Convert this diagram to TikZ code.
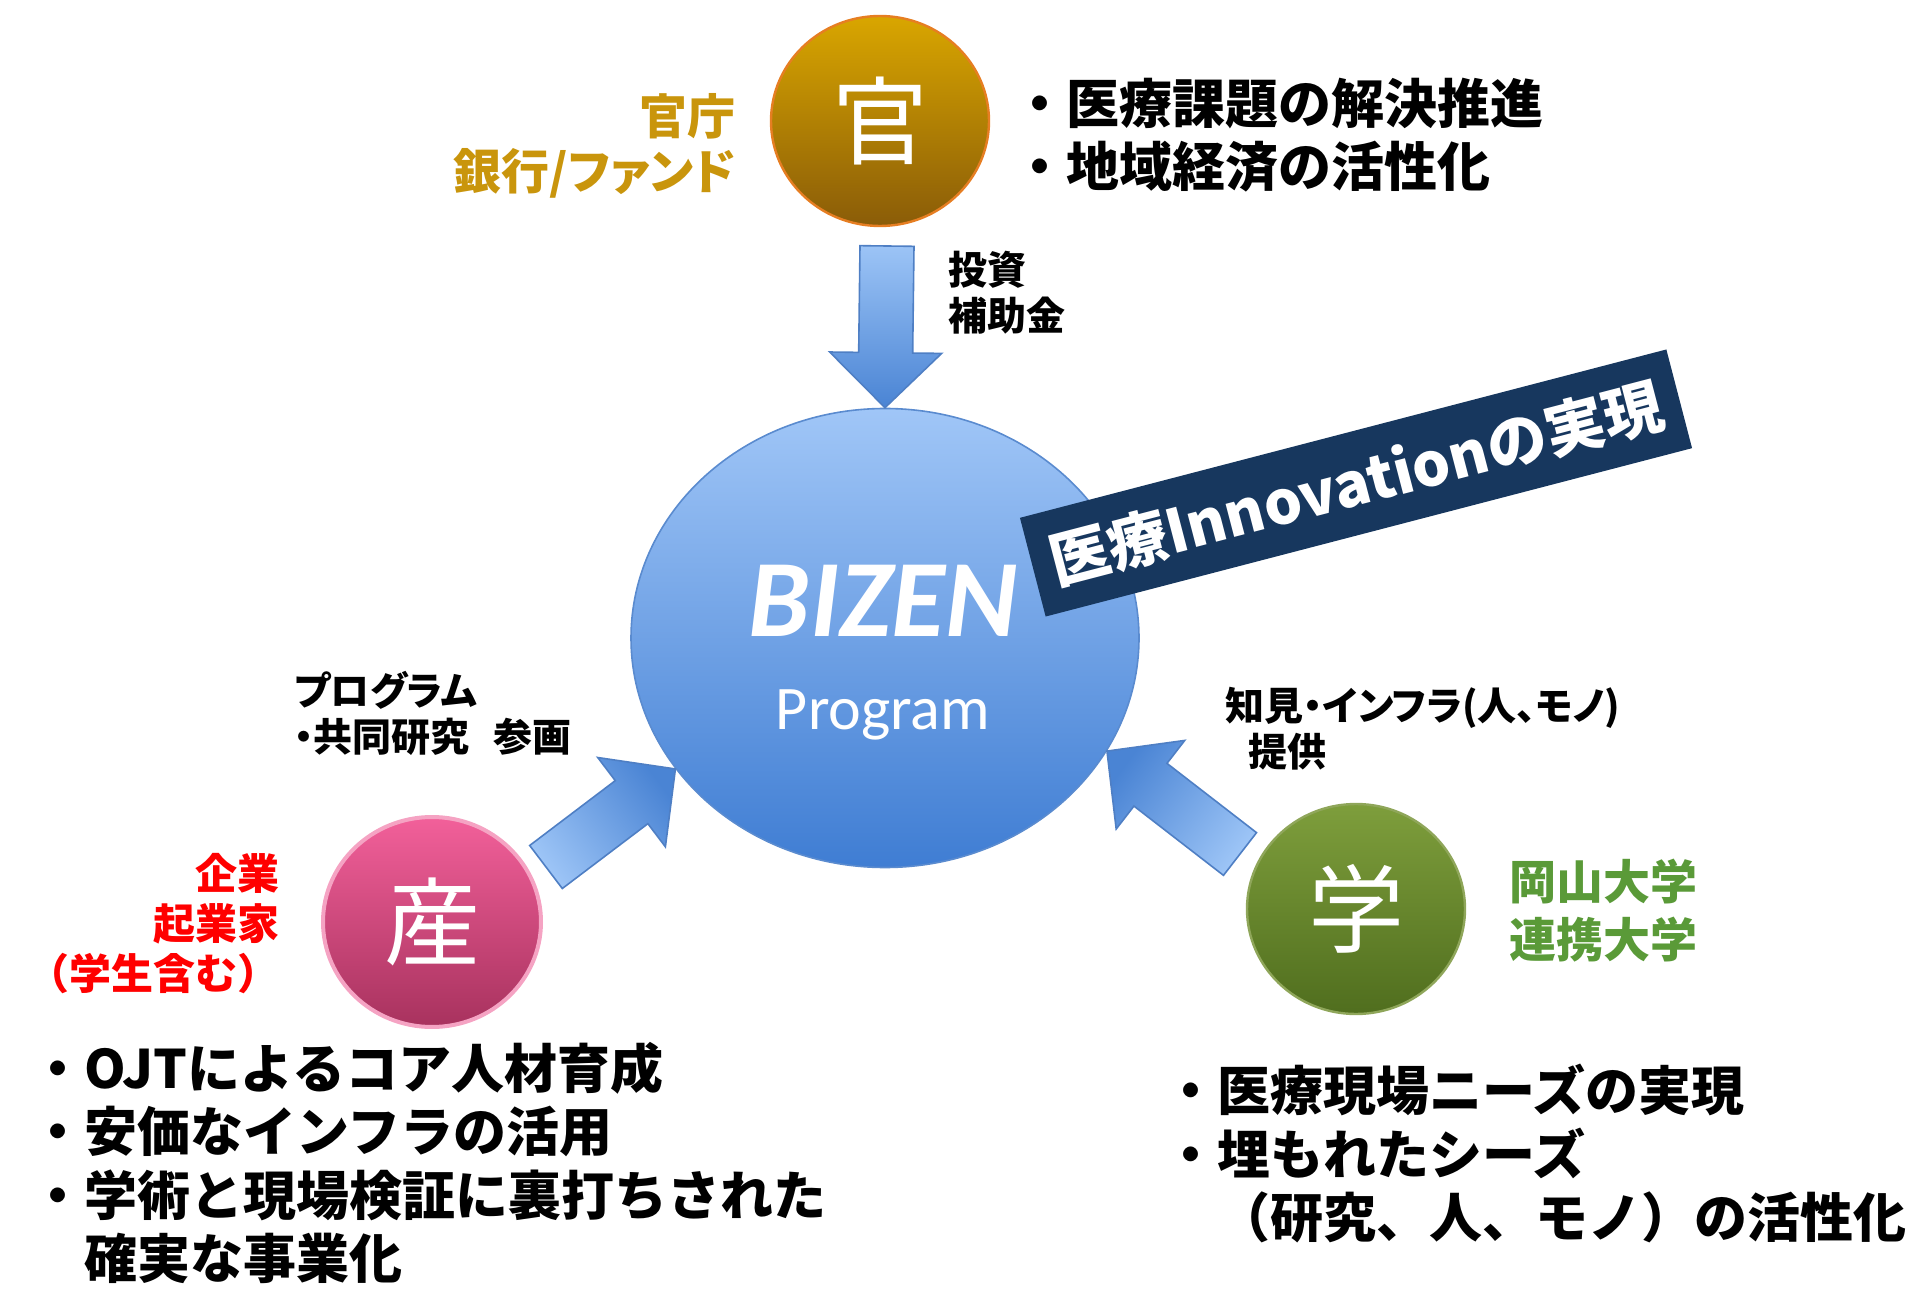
\documentclass[tikz,border=0pt]{standalone}
\usepackage{fontspec}
\setmainfont{Noto Sans CJK JP}
\newfontfamily\labelfont{Noto Sans CJK JP}[RawFeature=+palt]
\newfontfamily\latinfont{Carlito}
\usetikzlibrary{shapes.geometric,calc,positioning}

\definecolor{govtop}{HTML}{D9A600}
\definecolor{govbot}{HTML}{8A5C08}
\definecolor{govline}{HTML}{E67E22}
\definecolor{govtext}{HTML}{C9950C}
\definecolor{biztop}{HTML}{A0C6F7}
\definecolor{bizbot}{HTML}{3F7DD3}
\definecolor{bizline}{HTML}{5A8BCF}
\definecolor{indtop}{HTML}{F2609A}
\definecolor{indbot}{HTML}{A8325E}
\definecolor{indline}{HTML}{F5A3C3}
\definecolor{acatop}{HTML}{7E9E3C}
\definecolor{acabot}{HTML}{506E1E}
\definecolor{acaline}{HTML}{8FA65A}
\definecolor{acatext}{HTML}{5A9A38}
\definecolor{arrowlight}{HTML}{9CC4F6}
\definecolor{arrowdark}{HTML}{4A84D4}
\definecolor{arrowline}{HTML}{4F7FC4}
\definecolor{bannerblue}{HTML}{17375E}

% block arrow from #2 to #3
\newcommand\blockarrow[3][]{%
  \coordinate (hb) at ($(#3)!27.5pt!(#2)$);
  \shade[arrowshade,#1] ($(#2)!13.5pt!90:(#3)$) -- ($(hb)!13.5pt!90:(#3)$)
    -- ($(hb)!28pt!90:(#3)$) -- (#3) -- ($(hb)!28pt!-90:(#3)$)
    -- ($(hb)!13.5pt!-90:(#3)$) -- ($(#2)!13.5pt!-90:(#3)$) -- cycle;}

\begin{document}
\begin{tikzpicture}[x=0.5pt,y=-0.5pt,
  circ/.style={ellipse,inner sep=0pt,minimum width=109pt,minimum height=105pt,
    line width=1.2pt,text=white,font=\fontsize{48}{48}\selectfont},
  arrowshade/.style={top color=arrowdark,bottom color=arrowlight,draw=arrowline,line width=0.8pt},
  bullets/.style={anchor=west,align=left,inner sep=0pt,font=\bfseries\fontsize{26.5}{31.75}\selectfont},
  smalllabel/.style={anchor=west,align=left,inner sep=0pt,font=\labelfont\bfseries\fontsize{19.5}{23}\selectfont},
  slogan/.style={fill=bannerblue,text=white,inner sep=0pt,minimum width=334pt,minimum height=51pt,
    font=\bfseries\fontsize{30}{30}\selectfont}]
\useasboundingbox (0,0) rectangle (1924,1294);

\node[ellipse,inner sep=0pt,minimum width=254pt,minimum height=229.5pt,
  top color=biztop,bottom color=bizbot,draw=bizline,line width=0.8pt] (bizen) at (885,638) {};
\node[text=white,font=\latinfont\bfseries\itshape\fontsize{55}{55}\selectfont] (bizname) at (883,601) {BIZEN};
\node[text=white,font=\latinfont\fontsize{31}{31}\selectfont] (program) at (883,715) {Program};

\node[circ,top color=govtop,bottom color=govbot,draw=govline] (gov) at (880,121) {官};
\node[circ,top color=indtop,bottom color=indbot,draw=indline,line width=2pt] (ind) at (432,922) {産};
\node[circ,top color=acatop,bottom color=acabot,draw=acaline] (aca) at (1356,909) {学};

\coordinate (gov-out) at (887,246);
\coordinate (ind-out) at (546,867);
\coordinate (aca-out) at (1240,854);
\blockarrow[shading angle=180]{gov-out}{bizen.north}
\blockarrow[shading angle=-53]{ind-out}{bizen.212}
\blockarrow[shading angle=53]{aca-out}{bizen.-27}

\node[slogan,rotate=14.6] (slogan) at (1356,483) {医療Innovationの実現};

\node[anchor=east,align=right,inner sep=0pt,text=govtext,
  font=\labelfont\bfseries\fontsize{24}{27.5}\selectfont] (govname) at (736,146) {官庁\\銀行/ファンド};
\node[bullets] (govgoal) at (1013,135) {・医療課題の解決推進\\・地域経済の活性化};
\node[smalllabel] (fund) at (948,293) {投資\\補助金};

\node[smalllabel] (joint) at (294,713) {プログラム\\・共同研究\hspace{0.6em}参画};
\node[anchor=east,align=right,inner sep=0pt,text=red,
  font=\bfseries\fontsize{21}{25}\selectfont] (indname) at (280,924) {企業\\起業家\\（学生含む）};
\node[bullets] (indgoal) at (31,1163) {・OJTによるコア人材育成\\・安価なインフラの活用\\・学術と現場検証に裏打ちされた\\\phantom{・}確実な事業化};

\node[smalllabel] (supply) at (1225,729) {知見・インフラ(人、モノ)\\\hspace{0.6em}提供};
\node[anchor=west,align=left,inner sep=0pt,text=acatext,
  font=\labelfont\bfseries\fontsize{23.5}{29}\selectfont] (acaname) at (1509,911) {岡山大学\\連携大学};
\node[bullets] (acagoal) at (1164,1154) {・医療現場ニーズの実現\\・埋もれたシーズ\\\phantom{・}（研究、人、モノ）の活性化};
\end{tikzpicture}
\end{document}
